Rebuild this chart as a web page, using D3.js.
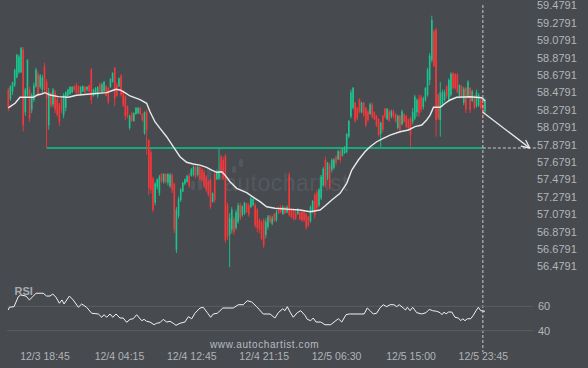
<!DOCTYPE html>
<html><head><meta charset="utf-8">
<script src="https://cdn.jsdelivr.net/npm/d3@7"></script>
<style>html,body{margin:0;padding:0;background:#474a4f;}svg{display:block}</style>
</head><body>
<svg id="c" width="588" height="368"></svg>
<script>
const opens = [58.55,58.44,58.53,58.60,58.69,58.75,58.75,59.01,58.29,58.49,
58.55,58.32,58.43,58.59,58.73,58.58,58.55,58.82,58.64,58.14,
58.51,58.38,58.52,58.44,58.38,58.44,58.26,58.34,58.48,58.50,
58.52,58.59,58.60,58.59,58.50,58.53,58.58,58.55,58.60,58.78,
58.48,58.50,58.48,58.61,58.52,58.53,58.59,58.57,58.58,58.64,
58.80,58.60,58.59,58.71,58.53,58.47,58.36,58.11,58.28,58.19,
58.27,58.28,58.34,58.27,58.05,58.29,57.97,57.83,57.53,57.25,
57.43,57.36,57.58,57.49,57.58,57.48,57.44,57.57,57.47,56.71,
57.10,57.28,57.38,57.47,57.49,57.56,57.56,57.57,57.66,57.57,
57.66,57.63,57.60,57.55,57.49,57.51,57.26,57.58,57.52,57.53,
57.78,57.74,57.79,57.22,56.88,56.94,57.06,56.96,57.03,57.22,
57.11,57.13,57.24,57.22,57.20,57.22,57.22,57.17,57.05,57.03,
57.05,56.88,56.97,57.10,57.01,57.12,57.05,57.19,57.20,57.12,
57.20,57.14,57.57,57.17,57.17,57.14,57.12,57.14,57.15,57.14,
57.12,57.09,57.04,57.15,57.34,57.37,57.22,57.30,57.45,57.74,
57.53,57.68,57.63,57.65,57.78,57.75,57.84,57.79,57.82,57.83,
58.01,58.24,58.34,58.40,58.34,58.44,58.29,58.40,58.34,58.30,
58.27,58.38,58.29,58.25,58.21,58.04,58.25,58.33,58.21,58.30,
58.24,58.30,58.27,58.11,58.25,58.15,58.27,58.25,58.21,58.22,
58.18,58.22,58.29,58.45,58.47,58.35,58.43,58.49,58.66,58.89,
59.22,59.24,58.49,58.20,58.38,58.43,58.59,58.43,58.49,58.74,
58.73,58.72,58.48,58.59,58.40,58.57,58.48,58.57,58.42,58.48,
58.36,58.37,58.44,58.38,58.30];
const highs = [58.57,58.60,58.64,58.79,58.96,58.95,59.04,59.04,58.57,58.90,
58.58,58.51,58.63,58.80,58.76,58.73,58.72,58.86,58.67,58.57,
58.52,58.57,58.55,58.47,58.40,58.47,58.51,58.53,58.56,58.59,
58.59,58.60,58.63,58.60,58.59,58.60,58.59,58.59,58.61,58.80,
58.56,58.58,58.59,58.63,58.63,58.65,58.60,58.58,58.68,58.75,
58.81,58.63,58.69,58.73,58.55,58.49,58.37,58.26,58.29,58.29,
58.35,58.35,58.35,58.28,58.30,58.32,57.98,57.86,57.55,57.49,
57.53,57.57,57.59,57.59,57.59,57.59,57.59,57.59,57.48,57.20,
57.32,57.42,57.49,57.53,57.57,57.59,57.65,57.68,57.68,57.68,
57.68,57.65,57.63,57.57,57.51,57.53,57.37,57.60,57.63,57.88,
57.80,57.78,57.81,57.25,57.13,57.20,57.09,57.17,57.25,57.25,
57.22,57.26,57.25,57.25,57.32,57.30,57.25,57.19,57.07,57.05,
57.07,57.07,57.11,57.11,57.10,57.13,57.17,57.21,57.22,57.22,
57.21,57.22,57.60,57.19,57.19,57.17,57.19,57.15,57.17,57.15,
57.13,57.10,57.22,57.28,57.36,57.40,57.42,57.57,57.66,57.78,
57.72,57.71,57.76,57.76,57.79,57.86,57.86,57.88,57.90,58.05,
58.20,58.55,58.58,58.41,58.35,58.45,58.41,58.41,58.35,58.32,
58.40,58.40,58.30,58.26,58.22,58.18,58.26,58.34,58.34,58.32,
58.32,58.32,58.28,58.26,58.26,58.32,58.28,58.26,58.22,58.24,
58.34,58.49,58.45,58.49,58.49,58.47,58.58,58.80,58.97,59.40,
59.24,59.26,58.51,58.64,58.55,58.55,58.60,58.68,58.75,58.75,
58.74,58.74,58.61,58.60,58.58,58.58,58.66,58.58,58.55,58.49,
58.55,58.51,58.45,58.41,58.45];
const lows = [58.30,58.42,58.49,58.58,58.68,58.73,58.74,58.07,58.25,58.47,
58.18,58.28,58.41,58.57,58.47,58.56,58.51,58.52,57.88,58.09,
58.34,58.35,58.28,58.24,58.13,58.28,58.22,58.30,58.47,58.49,
58.51,58.53,58.49,58.50,58.49,58.52,58.51,58.53,58.52,58.38,
58.47,58.49,58.45,58.52,58.51,58.52,58.47,58.38,58.57,58.63,
58.36,58.47,58.58,58.47,58.35,58.20,58.22,58.09,58.18,58.18,
58.26,58.27,58.26,58.18,58.03,57.80,57.34,57.36,57.14,57.22,
57.40,57.33,57.48,57.47,57.47,57.45,57.42,57.36,56.90,56.67,
57.07,57.26,57.37,57.45,57.48,57.42,57.55,57.55,57.53,57.55,
57.51,57.49,57.42,57.37,57.32,57.18,57.25,57.25,57.51,57.51,
57.59,57.51,56.79,56.82,56.51,56.90,56.88,56.94,57.01,57.05,
57.09,57.11,57.13,57.09,57.19,57.21,56.96,56.91,56.90,56.82,
56.73,56.84,56.94,57.01,56.99,57.03,57.03,57.12,57.13,57.11,
57.12,57.13,57.09,57.07,57.05,57.05,57.11,57.05,57.03,57.03,
56.94,56.97,57.02,57.13,57.07,57.17,57.20,57.28,57.43,57.42,
57.51,57.40,57.60,57.63,57.68,57.74,57.71,57.78,57.81,57.82,
57.99,58.22,58.32,58.17,58.20,58.28,58.28,58.24,58.12,58.18,
58.26,58.22,58.20,58.12,58.01,57.89,58.06,58.22,58.20,58.18,
58.22,58.22,58.17,58.09,58.06,58.14,58.17,58.11,58.09,57.89,
58.15,58.20,58.24,58.24,58.29,58.32,58.41,58.47,58.60,58.86,
58.81,58.01,58.20,58.01,58.35,58.41,58.45,58.41,58.47,58.55,
58.55,58.51,58.45,58.45,58.37,58.28,58.45,58.28,58.41,58.32,
58.34,58.35,58.32,58.22,58.28];
const closes = [58.34,58.59,58.63,58.78,58.95,58.93,59.03,58.14,58.55,58.89,
58.22,58.49,58.60,58.78,58.49,58.71,58.69,58.55,58.45,58.52,
58.37,58.55,58.32,58.26,58.18,58.32,58.49,58.52,58.55,58.58,
58.58,58.55,58.51,58.51,58.58,58.59,58.52,58.58,58.53,58.43,
58.55,58.57,58.58,58.53,58.61,58.64,58.48,58.41,58.67,58.74,
58.45,58.48,58.68,58.49,58.37,58.24,58.25,58.25,58.19,58.28,
58.34,58.34,58.27,58.20,58.29,58.09,57.42,57.40,57.17,57.47,
57.52,57.55,57.50,57.58,57.49,57.58,57.57,57.40,56.94,57.17,
57.29,57.40,57.48,57.52,57.56,57.44,57.63,57.66,57.56,57.66,
57.53,57.51,57.44,57.40,57.34,57.20,57.36,57.28,57.60,57.61,
57.61,57.53,56.82,56.86,57.07,57.17,56.91,57.14,57.22,57.07,
57.21,57.25,57.14,57.11,57.30,57.29,56.99,56.96,56.94,56.84,
56.76,57.03,57.09,57.03,57.07,57.04,57.14,57.13,57.14,57.20,
57.13,57.20,57.11,57.09,57.07,57.06,57.18,57.06,57.05,57.05,
56.96,56.99,57.20,57.27,57.11,57.19,57.40,57.55,57.64,57.45,
57.71,57.42,57.74,57.75,57.71,57.84,57.74,57.87,57.89,58.04,
58.19,58.52,58.57,58.19,58.22,58.29,58.40,58.26,58.14,58.20,
58.38,58.24,58.21,58.14,58.03,58.17,58.09,58.24,58.33,58.19,
58.30,58.24,58.18,58.25,58.09,58.30,58.18,58.12,58.11,58.03,
58.29,58.47,58.43,58.28,58.32,58.45,58.57,58.78,58.94,59.35,
58.82,58.20,58.22,58.52,58.52,58.52,58.48,58.66,58.73,58.57,
58.57,58.52,58.60,58.47,58.56,58.32,58.64,58.32,58.53,58.34,
58.52,58.49,58.34,58.29,58.43];

// moving average, read at candle positions (index, value)
const maIdx = [0,0.8,3.2,5.5,11.8,13.6,15.7,17.3,19.6,23.5,28.2,32.1,38.4,46.2,48.6,50.6,52.5,54.8,57.2,61.9,65.0,66.6,68.9,71.3,74.4,77.5,80.7,83.8,86.9,90.1,93.2,95.6,97.9,100.3,101.8,104.2,107.3,112.0,115.9,118.3,121.4,125.3,132.4,137.1,141.8,146.5,148.8,152.0,155.9,159.0,161.4,164.5,167.6,170.0,173.1,176.2,179.4,184.1,188.0,191.1,194.3,196.6,198.2,199.8,202.9,205.3,207.6,210.7,217.0,222.5,224];
const maVal = [58.339,58.354,58.393,58.462,58.462,58.488,58.500,58.515,58.488,58.469,58.462,58.485,58.500,58.515,58.537,58.554,58.546,58.515,58.477,58.436,58.393,58.296,58.181,58.105,58.009,57.894,57.779,57.715,57.695,57.683,57.657,57.626,57.600,57.606,57.569,57.492,57.416,57.365,57.301,57.262,57.204,57.186,57.174,57.166,57.147,57.166,57.212,57.281,57.358,57.473,57.626,57.741,57.836,57.894,57.951,57.990,58.028,58.066,58.086,58.124,58.143,58.201,58.258,58.347,58.347,58.393,58.431,58.462,58.469,58.457,58.419];

// RSI (index, value)
const rsiIdx = [0,0.5,2.7,4.7,5.8,8.3,9.9,11.5,13.0,16.4,18.0,19.6,20.9,22.4,24.0,25.2,26.2,28.7,30.5,32.9,34.5,36.8,39.2,42.3,43.9,45.0,46.2,47.8,49.1,50.6,52.5,54.0,55.6,57.2,58.7,60.3,61.6,62.7,63.8,65.0,66.6,68.5,69.7,71.3,72.8,74.4,76.0,77.5,78.8,80.7,83.0,84.6,86.2,87.7,90.1,91.6,93.5,95.1,96.3,98.2,100.8,105.7,108.1,110.4,112.3,114.4,116.7,119.8,123.0,125.3,126.9,129.0,130.0,131.1,132.4,133.9,135.8,137.4,139.4,140.5,142.1,143.3,144.6,146.8,148.8,151.5,153.5,155.1,156.7,158.7,160.2,167.2,168.7,170.0,171.5,173.1,174.6,176.2,177.8,179.4,181.2,182.5,183.7,185.6,186.6,187.5,188.8,190.0,191.9,194.3,196.3,197.8,199.4,201.3,202.9,203.8,204.8,205.7,206.8,208.4,209.9,211.5,212.6,213.5,214.6,215.7,217.3,218.5,219.8,220.9,222.0,224.0];
const rsiVal = [57.0,59.2,59.7,67.9,69.3,68.4,65.2,67.9,70.7,70.7,68.4,68.4,70.1,67.4,62.5,65.2,61.9,68.4,65.2,59.2,61.9,59.2,54.3,53.7,51.0,53.1,51.0,53.7,51.0,53.7,50.4,50.4,46.9,49.3,49.8,53.1,50.4,48.2,49.3,47.7,47.1,44.9,46.1,46.6,49.3,47.1,47.7,46.1,44.4,46.1,47.1,51.5,49.8,54.3,58.6,59.2,54.8,51.0,53.7,54.3,58.6,58.6,61.3,61.3,64.6,63.5,59.7,53.7,53.7,50.4,54.8,58.0,56.4,59.7,55.3,51.0,54.8,56.4,52.6,49.3,48.2,50.4,47.1,47.1,44.9,44.9,47.7,49.8,47.1,53.1,53.7,53.7,58.6,56.4,53.7,54.3,58.6,61.3,59.7,61.3,61.3,59.7,61.3,58.6,57.0,59.2,56.4,59.2,54.8,53.7,54.8,57.5,56.4,55.9,54.8,53.1,55.3,53.7,55.3,55.3,51.0,50.4,48.2,49.8,48.2,49.8,49.8,52.6,56.4,59.2,56.4,55.9];

const priceTicks = [59.4791,59.2791,59.0791,58.8791,58.6791,58.4791,58.2791,58.0791,57.8791,57.6791,57.4791,57.2791,57.0791,56.8791,56.6791,56.4791];
const rsiTicks = [60,40];
const timeTickIdx = [17,52,86,120,154,189,223];
const timeTickLabels = ["12/3 18:45","12/4 04:15","12/4 12:45","12/4 21:15","12/5 06:30","12/5 15:00","12/5 23:45"];
const supportLevel = 57.8791;
const supportStartIdx = 18;
const currentIdx = 223;
const forecastIdx = 245;

const FONT = "'Liberation Sans', Arial, sans-serif";
const svg = d3.select('#c');
svg.append('rect').attr('width',588).attr('height',368).attr('fill','#474a4f');

const x = d3.scaleLinear().domain([0, closes.length-1]).range([8.3, 485]);
const y = d3.scaleLinear().domain([56.4791, 59.4791]).range([269.8, 8.8]);
const ry = d3.scaleLinear().domain([40, 60]).range([330.7, 306.3]);

// faint watermark logo
const wm = svg.append('g').attr('fill','#54585d');
[[191,181,4,9],[198,176,4,14],[207,168,4,18],[219,165,4,15],[232,166,4,7],[239,159,4,8]].forEach(r=>{
  wm.append('rect').attr('x',r[0]).attr('y',r[1]).attr('width',r[2]).attr('height',r[3]).attr('rx',1.5);
});
wm.append('text').attr('x',224).attr('y',191).attr('font-family',FONT).attr('font-size',23).attr('letter-spacing',0.5).text('autochartist');

// support line
svg.append('line').attr('x1',x(supportStartIdx)).attr('x2',x(currentIdx))
  .attr('y1',y(supportLevel)).attr('y2',y(supportLevel))
  .attr('stroke','#17a97b').attr('stroke-width',2);

// candles
const data = closes.map((c,i)=>({i, o:opens[i], h:highs[i], l:lows[i], c}));
const GREEN = '#1cc48d', RED = '#f4373b';
const cg = svg.append('g');
cg.selectAll('line.w').data(data).join('line').attr('class','w')
  .attr('x1',d=>x(d.i)).attr('x2',d=>x(d.i))
  .attr('y1',d=>y(d.h)).attr('y2',d=>y(d.l))
  .attr('stroke',d=>d.c>=d.o?GREEN:RED).attr('stroke-width',0.9);
cg.selectAll('rect.b').data(data).join('rect').attr('class','b')
  .attr('x',d=>x(d.i)-0.8).attr('width',1.6)
  .attr('y',d=>y(Math.max(d.o,d.c)))
  .attr('height',d=>Math.max(1,Math.abs(y(d.o)-y(d.c))))
  .attr('fill',d=>d.c>=d.o?GREEN:RED);

// moving average
svg.append('path').datum(maIdx.map((v,k)=>[v,maVal[k]]))
  .attr('d', d3.line().x(d=>x(d[0])).y(d=>y(d[1])))
  .attr('fill','none').attr('stroke','#e9e9e9').attr('stroke-width',1.4);

// current time dashed line
svg.append('line').attr('x1',x(currentIdx)).attr('x2',x(currentIdx)).attr('y1',5).attr('y2',352)
  .attr('stroke','#c8cacd').attr('stroke-width',1).attr('stroke-dasharray','3,2');
// projection dashed horizontal
svg.append('line').attr('x1',x(currentIdx)).attr('x2',536).attr('y1',y(supportLevel)).attr('y2',y(supportLevel))
  .attr('stroke','#c8cacd').attr('stroke-width',1).attr('stroke-dasharray','3,2');
// forecast arrow
const ax0 = x(currentIdx), ay0 = y(closes[currentIdx]);
const ax1 = x(forecastIdx), ay1 = y(supportLevel);
svg.append('line').attr('x1',ax0).attr('y1',ay0).attr('x2',ax1).attr('y2',ay1)
  .attr('stroke','#ececec').attr('stroke-width',1.3);
const ang = Math.atan2(ay1-ay0, ax1-ax0);
[-0.45,0.45].forEach(da=>{
  const a = ang + Math.PI + da;
  svg.append('line').attr('x1',ax1).attr('y1',ay1)
    .attr('x2',ax1+9*Math.cos(a)).attr('y2',ay1+9*Math.sin(a))
    .attr('stroke','#ececec').attr('stroke-width',1.3);
});

// price axis
const pa = svg.append('g').attr('transform','translate(537,0)')
  .call(d3.axisRight(y).tickValues(priceTicks).tickSize(0).tickPadding(0).tickFormat(d3.format('.4f')));
pa.select('.domain').remove();
pa.selectAll('text').attr('dy',0).attr('x',0).attr('fill','#b3b6ba').attr('font-size',11).attr('font-family',FONT);

// RSI panel
svg.append('g').selectAll('line').data(rsiTicks).join('line')
  .attr('x1',7).attr('x2',533).attr('y1',d=>ry(d)).attr('y2',d=>ry(d))
  .attr('stroke','#5b5f64').attr('stroke-width',1);
const ra = svg.append('g').attr('transform','translate(538,0)')
  .call(d3.axisRight(ry).tickValues(rsiTicks).tickSize(0).tickPadding(0));
ra.select('.domain').remove();
ra.selectAll('text').attr('x',0).attr('fill','#b3b6ba').attr('font-size',11).attr('font-family',FONT);

svg.append('path').datum(rsiIdx.map((v,k)=>[v,rsiVal[k]]))
  .attr('d', d3.line().x(d=>x(d[0])).y(d=>ry(d[1])))
  .attr('fill','none').attr('stroke','#f2f2f2').attr('stroke-width',1);
svg.append('text').attr('x',14.5).attr('y',295).attr('font-family',FONT).attr('font-size',11)
  .attr('font-weight','bold').attr('fill','#a7abb0').text('RSI');

// time axis
const ta = svg.append('g').attr('transform','translate(0,350)')
  .call(d3.axisBottom(x).tickValues(timeTickIdx).tickSize(0).tickPadding(3).tickFormat((d,k)=>timeTickLabels[k]));
ta.select('.domain').remove();
ta.selectAll('text').attr('fill','#b0b4b8').attr('font-size',10.5).attr('font-family',FONT);

// site watermark
svg.append('text').attr('x',210).attr('y',348).attr('font-family',FONT).attr('font-size',10)
  .attr('letter-spacing',0.6).attr('fill','#b9bcc0').text('www.autochartist.com');
</script>
</body></html>
